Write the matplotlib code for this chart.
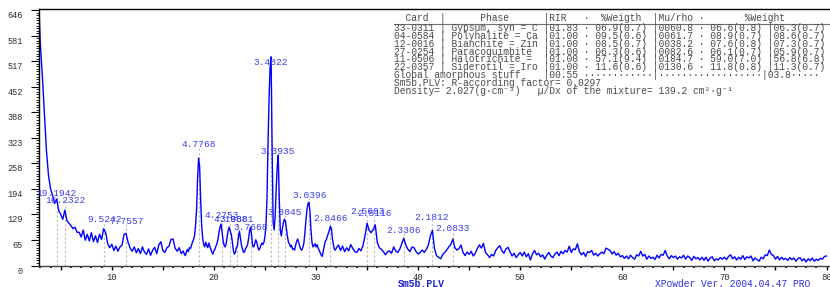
import numpy as np
import matplotlib
matplotlib.use('Agg')
import matplotlib.pyplot as plt
import matplotlib.transforms as mtransforms
from matplotlib.lines import Line2D
from matplotlib.ticker import MultipleLocator

MONO = ['Liberation Mono', 'DejaVu Sans Mono']
BLUE = '#0000ff'
LABEL_BLUE = '#3c3cf0'
WAVELENGTH = 1.5406  # Cu K-alpha

# ── pattern (2theta in deg, counts) ───────────────────────────────
# grid: 0.2 deg steps, 0.1 deg in the busy 17-32 range
two_theta = np.concatenate([np.arange(28, 170, 2),
                            np.arange(170, 320),
                            np.arange(320, 801, 2)]) / 10.0

counts_low = [  # 2.8 - 16.8
    700, 560, 478, 384, 290, 228, 194, 177, 157, 168,
    139, 129, 117, 140, 114, 107, 101, 93, 97, 84,
    84, 72, 90, 64, 79, 62, 83, 60, 75, 58,
    79, 66, 93, 83, 55, 45, 54, 38, 49, 36,
    47, 52, 79, 81, 58, 44, 36, 47, 32, 43,
    30, 47, 34, 28, 42, 26, 39, 46, 30, 52,
    60, 38, 33, 45, 49, 66, 67, 44, 36, 45, 30,
]
counts_mid = [  # 17.0 - 31.9
    37, 29, 25, 33, 41, 35, 45, 43, 51, 59,
    65, 75, 101, 140, 220, 272, 250, 168, 101, 69,
    53, 47, 59, 51, 45, 57, 49, 41, 33, 29,
    37, 41, 49, 55, 67, 85, 97, 105, 85, 63,
    51, 47, 55, 73, 89, 97, 87, 79, 61, 39,
    29, 33, 45, 49, 71, 87, 69, 51, 41, 33,
    35, 43, 47, 53, 69, 89, 97, 73, 49, 47,
    55, 65, 59, 47, 39, 43, 51, 57, 53, 59,
    73, 105, 170, 310, 420, 500, 528, 300, 110, 90,
    125, 195, 250, 279, 170, 89, 75, 93, 107, 117,
    113, 93, 73, 59, 55, 47, 51, 41, 43, 39,
    51, 61, 67, 59, 49, 41, 39, 45, 55, 79,
    111, 139, 155, 160, 139, 93, 59, 47, 51, 55,
    47, 53, 45, 39, 33, 27, 23, 35, 49, 61,
    65, 73, 81, 89, 99, 95, 69, 53, 41, 39,
]
counts_high = [  # 32.0 - 80.0
    45, 52, 38, 49, 35, 45, 37, 53, 43, 35,
    33, 43, 37, 51, 75, 107, 89, 83, 91, 103,
    59, 45, 41, 35, 27, 35, 37, 31, 47, 37,
    33, 41, 55, 69, 51, 41, 35, 47, 45, 35,
    29, 33, 39, 33, 41, 51, 75, 89, 43, 25,
    21, 17, 27, 33, 39, 47, 53, 67, 45, 39,
    43, 52, 33, 25, 34, 28, 36, 24, 31, 43,
    52, 44, 56, 33, 27, 20, 28, 24, 38, 45,
    50, 38, 31, 42, 46, 35, 24, 31, 20, 27,
    33, 24, 34, 22, 30, 14, 29, 38, 27, 31,
    22, 27, 16, 26, 33, 24, 20, 29, 34, 25,
    36, 30, 38, 34, 49, 33, 42, 40, 55, 35,
    27, 33, 23, 35, 33, 38, 26, 31, 24, 30,
    34, 30, 44, 41, 38, 29, 35, 26, 31, 22,
    25, 18, 24, 17, 26, 20, 16, 27, 24, 36,
    24, 28, 16, 24, 18, 21, 15, 26, 19, 28,
    26, 38, 24, 17, 25, 20, 24, 16, 22, 19,
    26, 16, 24, 20, 13, 23, 17, 20, 14, 21,
    13, 21, 11, 19, 22, 12, 17, 14, 20, 16,
    21, 15, 23, 27, 17, 22, 14, 21, 16, 25,
    15, 22, 19, 24, 12, 19, 15, 11, 21, 17,
    27, 25, 39, 28, 25, 16, 23, 14, 21, 15,
    18, 13, 20, 15, 19, 11, 17, 20, 12, 17,
    9, 17, 12, 19, 11, 16, 13, 18, 16, 23,
    24,
]
counts = np.array(counts_low + counts_mid + counts_high, dtype=float)

# peak labels (d-spacing, A) and label heights (counts)
peak_labels = ['19.1942', '16.2322', '9.5242', '7.7557', '4.7768', '4.2753',
               '4.1088', '3.9881', '3.7668', '3.4822', '3.3935', '3.3045',
               '3.0396', '2.8466', '2.5603', '2.5116', '2.3306', '2.1812',
               '2.0833']
peak_label_h = [176, 157, 109, 106, 300, 121, 109, 109, 91, 508, 283, 128,
                172, 113, 130, 124, 83, 115, 87]

y_ticks = [0, 64.6, 129.2, 193.8, 258.4, 323, 387.6, 452.2, 516.8, 581.4, 646]
y_tick_labels = ['0', '65', '129', '194', '258', '323', '388', '452', '517', '581', '646']
x_ticks = [5, 10, 15, 20, 25, 30, 35, 40, 45, 50, 55, 60, 65, 70, 75, 80]
x_tick_labels = ['', '10', '', '20', '', '30', '', '40', '', '50', '', '60', '', '70', '', '80']

table_lines = [
    '33-0311 | Gypsum, syn = C |01.83 · 06.9(0.7) |0060.8 · 06.6(0.8) |06.3(0.7)',
    '04-0584 | Polyhalite = Ca |01.00 · 09.5(0.6) |0061.7 · 08.9(0.7) |08.6(0.7)',
    '12-0016 | Bianchite = Zin |01.00 · 08.5(0.7) |0038.2 · 07.6(0.8) |07.3(0.7)',
    '27-0254 | Paracoquimbite  |01.00 · 06.3(0.6) |0082.6 · 06.1(0.7) |05.9(0.7)',
    '11-0506 | Halotrichite =  |01.00 · 57.1(9.4) |0184.7 · 59.0(7.0) |56.8(6.8)',
    '22-0357 | Siderotil = Iro |01.00 · 11.6(0.6) |0130.6 · 11.8(0.8) |11.3(0.7)',
    'Global amorphous stuff    |00.55 ············|··················|03.8·····',
    'Sm5b.PLV: R-according factor= 0.0297',
    'Density= 2.027(g·cm⁻³)   µ/Dx of the mixture= 139.2 cm²·g⁻¹',
]
table_header = '  Card  |      Phase      |RIR   ·  %Weigth  |Mu/rho ·       %Weight'

# ── figure ────────────────────────────────────────────────────────
W, H = 830, 287
fig = plt.figure(figsize=(W / 100, H / 100), dpi=100, facecolor='white')
ax = fig.add_axes([38.5 / W, 21.5 / H, 1 - 38.5 / W, (265.5 - 9) / H])

peak_tt = [2 * np.degrees(np.arcsin(WAVELENGTH / (2 * float(d)))) for d in peak_labels]
ax.vlines(peak_tt, 0, peak_label_h, colors='#b8b8b8', linestyles=(0, (2, 2)), lw=0.8, zorder=1)
ax.plot(two_theta, counts, color=BLUE, lw=1.0, zorder=2)
for tt, h, lab in zip(peak_tt, peak_label_h, peak_labels):
    ax.text(tt, h, lab, ha='center', va='baseline', fontsize=6.8, color=LABEL_BLUE,
            family=MONO, zorder=3)

ax.set_xlim(2.82, 80.34)
ax.set_ylim(0, 649)

ax.set_yticks(y_ticks)
ax.set_yticklabels(y_tick_labels, family=MONO, fontsize=6.2, color='#303030')
ax.yaxis.set_minor_locator(MultipleLocator(6.46))
ax.set_xticks(x_ticks)
ax.set_xticklabels(x_tick_labels, family=MONO, fontsize=6.4, color='#303030')
ax.xaxis.set_minor_locator(MultipleLocator(1))

ax.tick_params(axis='y', which='major', length=6, width=0.8, pad=5.5)
ax.tick_params(axis='y', which='minor', length=2.2, width=0.6)
ax.tick_params(axis='x', which='major', length=3, width=1, pad=2.5)
ax.tick_params(axis='x', which='minor', length=1.2, width=1.2)
off = mtransforms.ScaledTranslation(0, -0.045, fig.dpi_scale_trans)
for lbl in ax.get_yticklabels():
    lbl.set_transform(lbl.get_transform() + off)

ax.spines['right'].set_visible(False)
for s in ['left', 'top']:
    ax.spines[s].set_color('black')
    ax.spines[s].set_linewidth(1.0)
ax.spines['bottom'].set_color('#404040')
ax.spines['bottom'].set_linewidth(1.0)

# phase table top right
x0 = 394 / W
fig.text(x0, 1 - 18.3 / H, table_header, family=MONO, fontsize=6.9, color='#4a4a4a',
         ha='left', va='center')
fig.add_artist(Line2D([x0, 1.0], [1 - 23.5 / H] * 2, color='#707070', lw=0.8))
for i, line in enumerate(table_lines):
    fig.text(x0, 1 - (28.3 + 7.8 * i) / H, line, family=MONO, fontsize=6.9,
             color='#4a4a4a', ha='left', va='center')

fig.text(421 / W, 1 - 284.3 / H, 'Sm5b.PLV', family=MONO, fontsize=7, color='#2020d0',
         fontweight='bold', ha='center', va='center')
fig.text(733 / W, 1 - 284.3 / H, 'XPowder Ver. 2004.04.47 PRO', family=MONO, fontsize=6.9,
         color='#3030e0', ha='center', va='center')

fig.savefig('out.png', dpi=100, facecolor='white')
